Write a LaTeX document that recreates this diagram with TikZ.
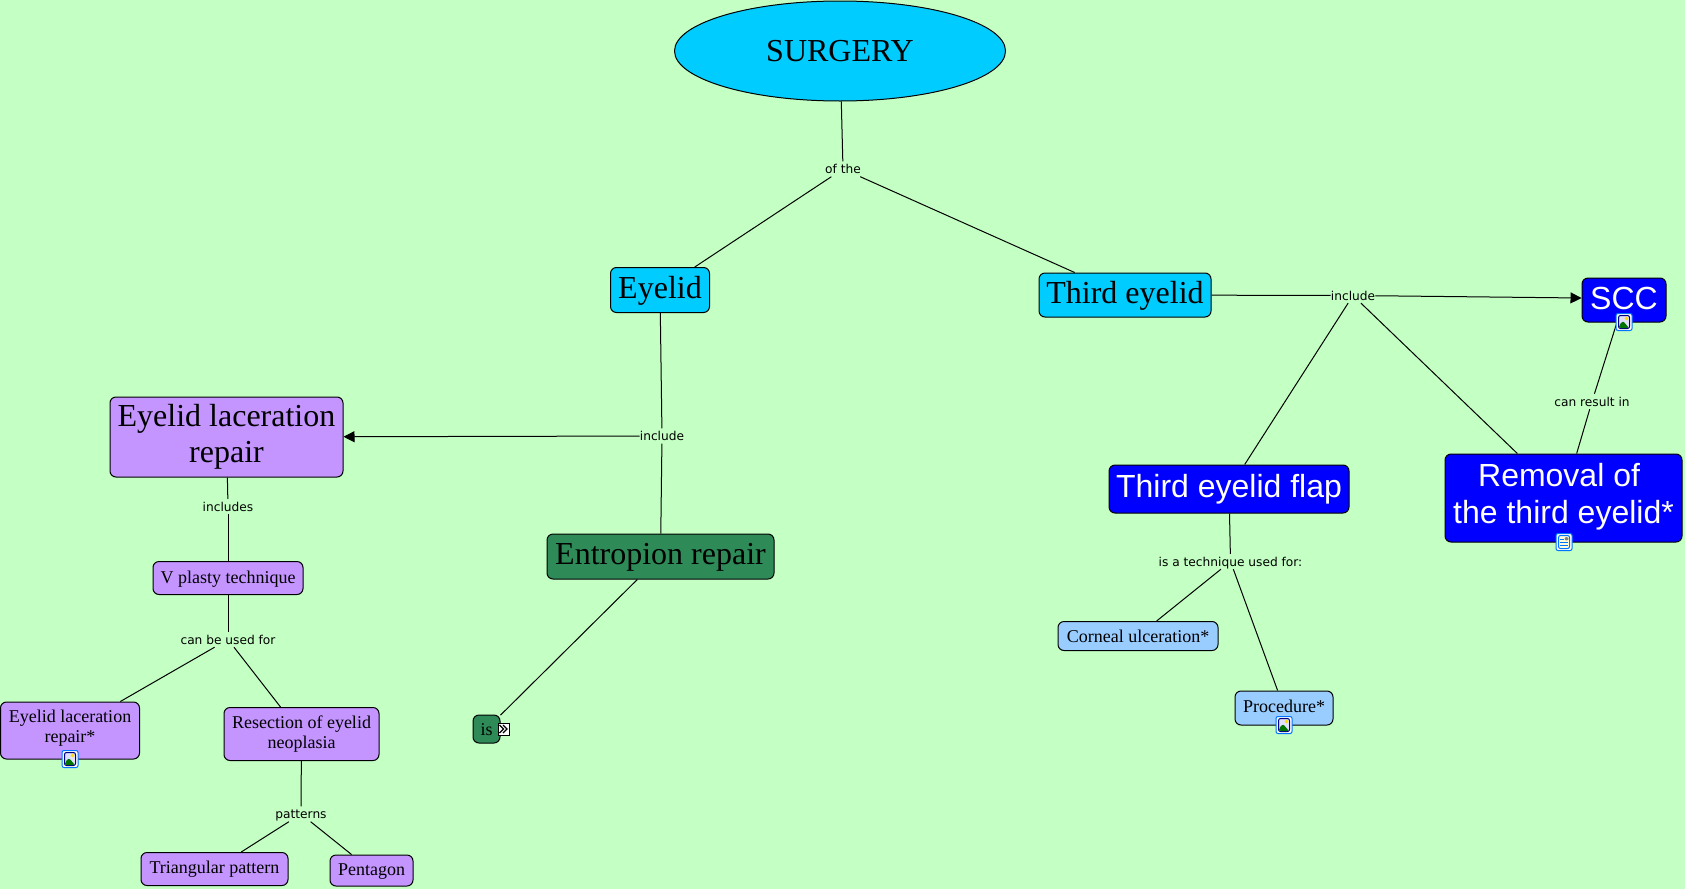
\documentclass[tikz,border=0pt]{standalone}
\usepackage{fontspec}
\setmainfont{Liberation Serif}
\setsansfont{Liberation Sans}
\newfontfamily\linkfont{DejaVu Sans}
\usetikzlibrary{arrows.meta,shapes.geometric}
\definecolor{mapback}{RGB}{196,255,196}
\definecolor{cyanbox}{RGB}{0,204,255}
\definecolor{purplebox}{RGB}{196,148,255}
\definecolor{greenbox}{RGB}{46,139,87}
\definecolor{bluebox}{RGB}{0,0,255}
\definecolor{skybox}{RGB}{153,204,255}
\tikzset{
  concept/.style={draw,rounded corners=6pt,inner sep=0pt,align=center,line width=1pt},
  bigtext/.style={font=\fontsize{32}{36.5}\selectfont},
  smalltext/.style={font=\fontsize{18}{20.5}\selectfont},
  whitetext/.style={text=white,font=\sffamily\fontsize{32}{36.5}\selectfont},
  bigline/.style={text height=23pt,text depth=7pt},
  smallline/.style={text height=13pt,text depth=4pt},
  linking/.style={font=\linkfont\fontsize{12.2}{14}\selectfont,inner xsep=0pt,inner ysep=1pt,text height=11pt,text depth=2pt},
  link/.style={line width=1pt},
  linkarrow/.style={link,-{Triangle[length=11pt,width=11pt]}},
  iconbox/.style={draw=blue!55!cyan,fill=white,rounded corners=2pt,line width=1pt,
    minimum width=16pt,minimum height=17pt,inner sep=0pt},
  imageicon/.style={iconbox,path picture={
    \begin{scope}[shift={(path picture bounding box.center)}]
      \draw[fill=blue!12,draw=blue!50!black,line width=1pt] (-5.5,-6.5) rectangle (5.5,6.5);
      \fill[yellow!80!orange] (2.5,-3.5) circle (1.8);
      \fill[green!45!black] (-5,6) -- (-5,3) -- (-1,-1) -- (5,6) -- cycle;
    \end{scope}}},
  noteicon/.style={iconbox,path picture={
    \begin{scope}[shift={(path picture bounding box.center)}]
      \draw[fill=yellow!15,line width=1pt] (-5.5,-6.5) rectangle (5.5,6.5);
      \fill[gray] (.5,-5) rectangle (4.5,-1.5);
      \foreach \liney in {-3,0,3}
        \draw[line width=.9pt] (-4,\liney) -- (\ifnum\liney<0 0\else 4\fi,\liney);
    \end{scope}}},
  moreicon/.style={draw,fill=white,line width=.6pt,minimum width=11pt,minimum height=12pt,
    inner sep=0pt,path picture={
    \begin{scope}[shift={(path picture bounding box.center)}]
      \draw[line width=1.1pt] (-4.5,-4) -- (-.5,0) -- (-4.5,4);
      \draw[line width=1.1pt] (-1,-4) -- (3,0) -- (-1,4);
    \end{scope}}}
}
\begin{document}
\begin{tikzpicture}[x=1pt,y=-1pt]
  \path[fill=mapback,use as bounding box] (0,0) rectangle (1685,889);

  % concepts
  \node[ellipse,draw,fill=cyanbox,bigtext,text height=24pt,text depth=4pt,minimum width=331pt,minimum height=100pt,inner sep=0pt,line width=1pt] (surgery) at (840,51) {SURGERY};
  \node[concept,fill=cyanbox,bigtext,bigline,minimum width=99pt,minimum height=45pt] (eyelid) at (660,290) {Eyelid};
  \node[concept,fill=cyanbox,bigtext,bigline,minimum width=172pt,minimum height=44pt] (third) at (1125,295) {Third eyelid};
  \node[concept,fill=bluebox,whitetext,text height=25pt,text depth=7pt,minimum width=84pt,minimum height=44pt] (scc) at (1624,300) {SCC};
  \node[concept,fill=bluebox,whitetext,text depth=9pt,minimum width=237pt,minimum height=88pt] (removal) at (1563.5,498) {\mbox{Removal of\ }\\the third eyelid*};
  \node[concept,fill=bluebox,whitetext,bigline,minimum width=240pt,minimum height=48pt] (flap) at (1229,489) {Third eyelid flap};
  \node[concept,fill=skybox,smalltext,text height=15pt,text depth=3pt,minimum width=160pt,minimum height=29pt] (corneal) at (1138,636) {Corneal ulceration*};
  \node[concept,fill=skybox,smalltext,text height=14pt,text depth=6pt,minimum width=98pt,minimum height=34pt] (procedure) at (1284,708) {Procedure*};
  \node[concept,fill=purplebox,bigtext,minimum width=233pt,minimum height=80pt] (laceration) at (226.5,437) {Eyelid laceration\\repair};
  \node[concept,fill=purplebox,smalltext,text height=14pt,text depth=3pt,minimum width=150pt,minimum height=33pt] (vplasty) at (228,578) {V plasty technique};
  \node[concept,fill=greenbox,bigtext,bigline,minimum width=227pt,minimum height=45pt] (entropion) at (660.5,556.5) {Entropion repair};
  \node[concept,fill=purplebox,smalltext,text depth=9pt,minimum width=139pt,minimum height=57pt] (lacerationsmall) at (70,730.5) {Eyelid laceration\\repair*};
  \node[concept,fill=purplebox,smalltext,minimum width=155pt,minimum height=53pt] (resection) at (301.5,734) {Resection of eyelid\\neoplasia};
  \node[concept,fill=purplebox,smalltext,smallline,minimum width=147pt,minimum height=33pt] (triangular) at (214.5,869) {Triangular pattern};
  \node[concept,fill=purplebox,smalltext,smallline,minimum width=83pt,minimum height=31pt] (pentagon) at (371.5,870.5) {Pentagon};
  \node[concept,fill=greenbox,smalltext,text height=14pt,text depth=2pt,minimum width=27pt,minimum height=28pt] (is) at (486.5,729) {is};

  % linking phrases
  \node[linking] (ofthe) at (843,169) {of the};
  \node[linking] (includeright) at (1353,295.5) {include};
  \node[linking] (includeleft) at (662,436) {include};
  \node[linking] (resultin) at (1592,401.5) {can result in};
  \node[linking] (includes) at (228,506.5) {includes};
  \node[linking] (usedfor) at (228,639.5) {can be used for};
  \node[linking] (patterns) at (301,814) {patterns};
  \node[linking] (technique) at (1230.5,561.5) {is a technique used for:};

  % connectors
  \draw[link] (surgery) -- (ofthe);
  \draw[link] (ofthe) -- (eyelid);
  \draw[link] (ofthe) -- (third);
  \draw[link] (eyelid) -- (includeleft);
  \draw[link] (includeleft) -- (entropion);
  \draw[linkarrow] (includeleft) -- (laceration);
  \draw[link] (laceration) -- (includes);
  \draw[link] (includes) -- (vplasty);
  \draw[link] (vplasty) -- (usedfor);
  \draw[link] (usedfor) -- (lacerationsmall);
  \draw[link] (usedfor) -- (resection);
  \draw[link] (resection) -- (patterns);
  \draw[link] (patterns) -- (triangular);
  \draw[link] (patterns) -- (pentagon);
  \draw[link] (entropion) -- (is);
  \draw[link] (third) -- (includeright);
  \draw[linkarrow] (includeright) -- ([yshift=2pt]scc.west);
  \draw[link] (includeright) -- (flap);
  \draw[link] (includeright) -- (removal);
  \draw[link] (scc) -- (resultin);
  \draw[link] (resultin) -- (removal);
  \draw[link] (flap) -- (technique);
  \draw[link] (technique) -- (corneal);
  \draw[link] (technique) -- (procedure);

  % icons
  \node[imageicon] (iconlaceration) at (70,759) {};
  \node[imageicon] (iconscc) at (1624,322) {};
  \node[imageicon] (iconprocedure) at (1284,725) {};
  \node[noteicon] (iconremoval) at (1564,542) {};
  \node[moreicon] (iconis) at (504,729) {};
\end{tikzpicture}
\end{document}
